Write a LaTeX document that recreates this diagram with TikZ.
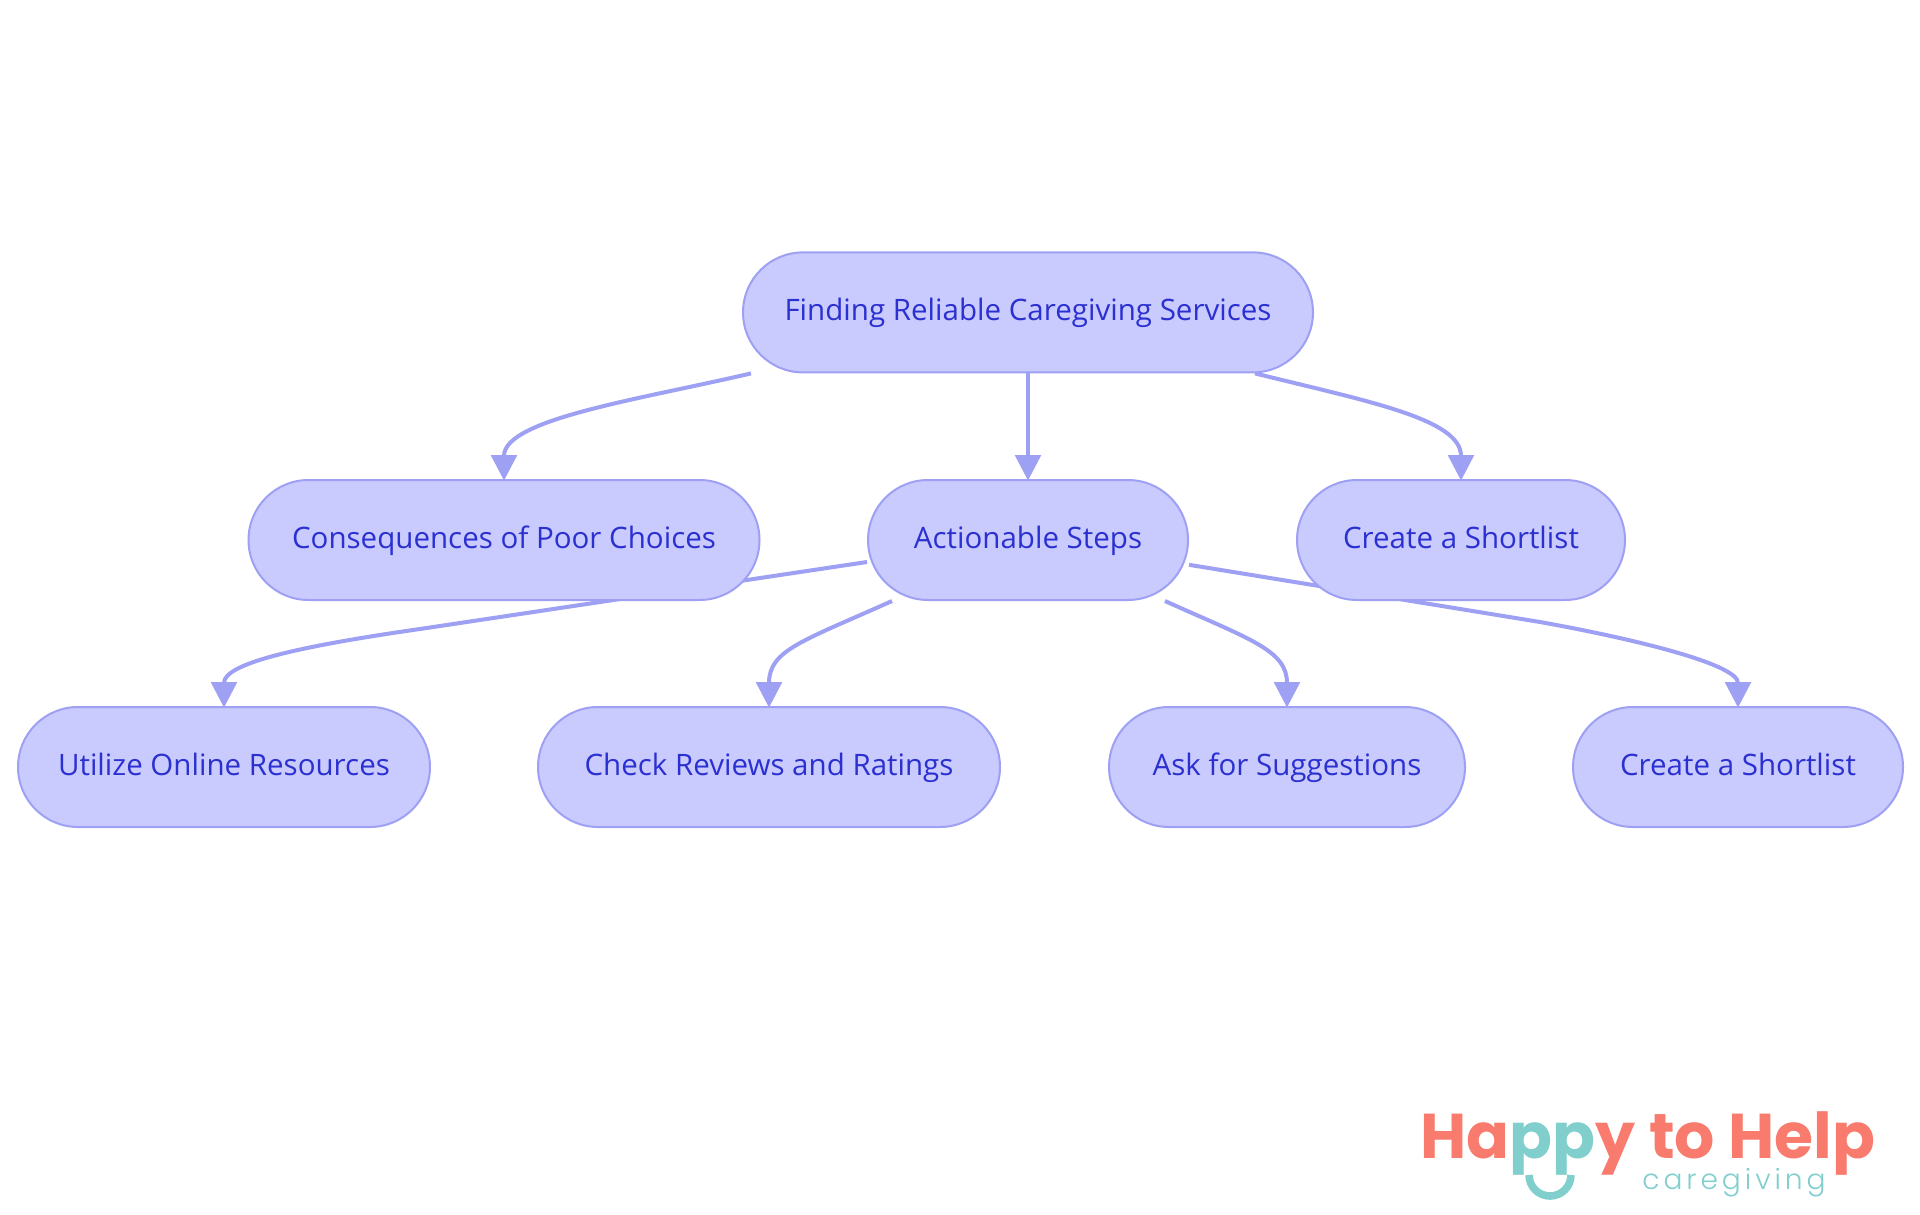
\documentclass[tikz,border=0pt]{standalone}
\usepackage{fontspec}
\setmainfont{Open Sans}
\newfontfamily\logofont[UprightFont=*,BoldFont=* Bold]{Poppins}
\newfontfamily\logolight[LetterSpace=14]{Poppins Light}
\usetikzlibrary{arrows.meta, calc, positioning}
\definecolor{boxfill}{RGB}{201,202,253}
\definecolor{boxline}{RGB}{158,160,243}
\definecolor{boxtext}{RGB}{43,48,208}
\definecolor{logored}{RGB}{249,123,109}
\definecolor{logoteal}{RGB}{129,207,205}
\pgfdeclarelayer{edges}
\pgfsetlayers{edges,main}
\tikzstyle{topic} = [rectangle, rounded corners=1.5cm, minimum height=3cm, inner sep=0pt, text height=0.61cm, text depth=0.2cm, text centered, draw=boxline, line width=0.05cm, fill=boxfill, text=boxtext, font=\fontsize{21}{25}\selectfont]
\tikzstyle{line} = [draw=boxline, line width=0.1cm, shorten >=-0.04cm, -{Triangle[length=0.64cm,width=0.64cm]}]

\begin{document}
\begin{tikzpicture}
  \useasboundingbox (0,0) rectangle (48,-30.375);
  \node (root) [topic, minimum width=14.25cm, xshift=25.7cm, yshift=-7.81cm] {Finding Reliable Caregiving Services};

  \node (poor) [topic, minimum width=12.775cm, xshift=12.6cm, yshift=-13.5cm] {Consequences of Poor Choices};
  \node (steps) [topic, minimum width=8cm, xshift=25.7cm, yshift=-13.5cm] {Actionable Steps};
  \node (list) [topic, minimum width=8.2cm, xshift=36.525cm, yshift=-13.5cm] {Create a Shortlist};

  \node (online) [topic, minimum width=10.3cm, xshift=5.6cm, yshift=-19.175cm] {Utilize Online Resources};
  \node (reviews) [topic, minimum width=11.55cm, xshift=19.225cm, yshift=-19.175cm] {Check Reviews and Ratings};
  \node (ask) [topic, minimum width=8.9cm, xshift=32.175cm, yshift=-19.175cm] {Ask for Suggestions};
  \node (short) [topic, minimum width=8.25cm, xshift=43.45cm, yshift=-19.175cm] {Create a Shortlist};

  \begin{pgfonlayer}{edges}
    \path [line] ($(root.south) + (-6.925,0)$) .. controls ($(root.south) + (-9.7,-0.65)$) and ($(poor.north) + (0,1.5)$) .. (poor.north);
    \path [line] (root) -- (steps.north);
    \path [line] ($(root.south) + (5.675,0)$) .. controls ($(root.south) + (8.5,-0.7)$) and ($(list.north) + (0,1.5)$) .. (list.north);

    \path [line] ($(steps.west) + (0,-0.55)$) -- ($(steps.west) + (-11.175,-2.225)$) .. controls ($(online.north) + (1.65,1.46)$) and ($(online.north) + (0,1.04)$) .. (online.north);
    \path [line] ($(steps.south west) + (0.625,0)$) .. controls ($(steps.south west) + (-1.6,-1)$) and ($(reviews.north) + (0,1.4)$) .. (reviews.north);
    \path [line] ($(steps.south east) + (-0.6,0)$) .. controls ($(steps.south east) + (1.5,-0.95)$) and ($(ask.north) + (0,1.4)$) .. (ask.north);
    \path [line] ($(steps.east) + (0,-0.62)$) -- ($(steps.east) + (8.775,-2.05)$) .. controls ($(short.north) + (-2.45,1.65)$) and ($(short.north) + (0,1.03)$) .. (short.north);
  \end{pgfonlayer}

  \node (happy) [text=logored, inner sep=0pt, anchor=base, xshift=41.2cm, yshift=-28.95cm, font=\logofont\bfseries\fontsize{45}{50}\selectfont] {Ha{\color{logoteal}pp}y to Help};
  \node (caring) [text=logoteal, inner sep=0pt, anchor=base, xshift=43.35cm, yshift=-29.725cm, font=\logolight\fontsize{20}{24}\selectfont] {caregiving};
  \draw [logoteal, line width=0.19cm] (38.225,-29.375) arc (180:360:0.525);
\end{tikzpicture}
\end{document}
